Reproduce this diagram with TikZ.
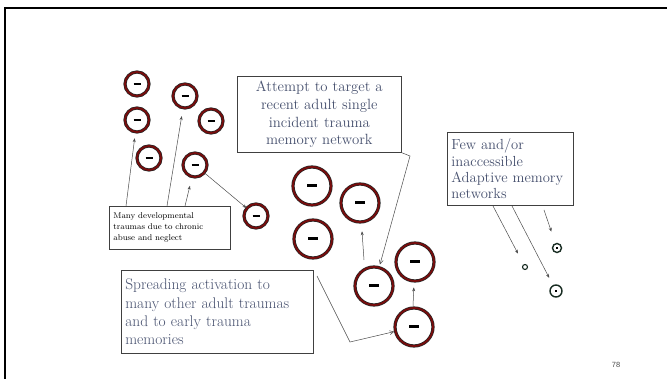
\documentclass[tikz,border=0pt]{standalone}
\usepackage{fontspec}
\newfontfamily\numfont{Liberation Sans}
\usetikzlibrary{arrows.meta}

\definecolor{ringred}{RGB}{120,12,12}
\definecolor{slate}{RGB}{70,80,110}
\definecolor{adaptgreen}{RGB}{25,45,35}

\begin{document}
\begin{tikzpicture}[
            x=1pt, y=-1pt,
            mem/.style={
              circle,
              draw=black!85,
              line width=0.7pt,
              double=ringred,
              double distance=1.8pt,
              fill=white,
              inner sep=0pt,
              minimum size=24pt,
            },
            big/.style={mem, minimum size=38pt},
            adapt/.style={
              circle,
              draw=adaptgreen,
              line width=1.4pt,
              inner sep=0pt,
            },
            note/.style={
              draw=black!75,
              line width=0.7pt,
              fill=white,
              anchor=north west,
              inner xsep=4pt,
              inner ysep=2pt,
              text=slate,
            },
            >={Stealth[length=4pt,width=3pt]},
            callout/.tip={Straight Barb[length=4pt,width=4pt]},
          ]
          \useasboundingbox[fill=white] (0,0) rectangle (667,379);
          \draw[line width=2.5pt] (5,379) -- (5,8) -- (667,8);

          % early trauma memories
          \node[mem] at (137,84) (e1) {\rule{7pt}{2.4pt}} ;
          \node[mem] at (137,120) (e2) {\rule{7pt}{2.4pt}} ;
          \node[mem] at (185,96) (e3) {\rule{7pt}{2.4pt}} ;
          \node[mem] at (211,121) (e4) {\rule{7pt}{2.4pt}} ;
          \node[mem] at (149,158) (e5) {\rule{7pt}{2.4pt}} ;
          \node[mem] at (195,165) (e6) {\rule{7pt}{2.4pt}} ;
          \node[mem] at (256,216) (e7) {\rule{7pt}{2.4pt}} ;

          % adult trauma memories
          \node[big] at (312,186) (r1) {\rule{10pt}{3pt}} ;
          \node[big] at (360,203) (r2) {\rule{10pt}{3pt}} ;
          \node[big] at (313,239) (r3) {\rule{10pt}{3pt}} ;
          \node[big] at (374,286) (r4) {\rule{10pt}{3pt}} ;
          \node[big] at (415,262) (r5) {\rule{10pt}{3pt}} ;
          \node[big] at (414,327) (r6) {\rule{10pt}{3pt}} ;

          % adaptive networks
          \node[adapt, minimum size=9pt] at (557,248) (p1) {\rule{1.2pt}{1.2pt}} ;
          \node[adapt, minimum size=5pt, line width=1.1pt] at (525,267) (p2) {} ;
          \node[adapt, minimum size=12pt] at (556,291) (p3) {\rule{1.4pt}{1.4pt}} ;

          % text boxes
          \node[note, text width=156pt, minimum height=76pt, align=center,
                font=\fontsize{14.8}{17.8}\selectfont] at (237,76) (attempt)
            {Attempt to target a\\ recent adult single\\ incident trauma\\ memory network} ;
          \node[note, text width=118pt, minimum height=73pt, align=left,
                font=\fontsize{14.6}{16.4}\selectfont] at (447,132) (few)
            {Few and/or\\ inaccessible\\ Adaptive memory\\ networks} ;
          \node[note, text width=113pt, minimum height=43pt, align=left, text=black,
                font=\fontsize{8.4}{11}\selectfont] at (109,206) (many)
            {Many developmental\\ traumas due to chronic\\ abuse and neglect} ;
          \node[note, text width=184pt, minimum height=83pt, align=left,
                font=\fontsize{15.4}{18.2}\selectfont] at (121,270) (spread)
            {Spreading activation to\\ many other adult traumas\\ and to early trauma\\ memories} ;

          % free ends of the connectors
          \coordinate (m1) at (126,206) ;
          \coordinate (m2) at (167,206) ;
          \coordinate (m3) at (185,206) ;
          \coordinate (abend) at (410,156) ;
          \coordinate (sstart) at (317,276) ;
          \coordinate (sbend) at (350,342) ;
          \coordinate (u1) at (364,260) ;
          \coordinate (u2) at (413,306) ;
          \coordinate (f1) at (493,206) ;
          \coordinate (f2) at (512,206) ;
          \coordinate (f3) at (544,210) ;

          \begin{scope}[draw=black!70, line width=0.5pt]
          \draw[->, shorten >=6pt] (m1)--(e2) ;
          \draw[->, shorten >=8pt] (m2)--(e3) ;
          \draw[->, shorten >=9pt] (m3)--(e6) ;
          \draw[->] (e6)--(e7) ;
          \draw[->, shorten >=9pt] (u1)--(r2) ;
          \draw[->, shorten >=6pt] (u2)--(r5) ;
          \draw[-callout, shorten >=3pt] (attempt.south east)--(abend)--(r4) ;
          \draw[-callout, shorten >=1pt] (sstart)--(sbend)--(r6) ;
          \draw[->, shorten >=12pt] (f1)--(p2) ;
          \draw[->, shorten >=8pt] (f2)--(p3) ;
          \draw[->, shorten >=12pt] (f3)--(p1) ;
          \end{scope}

          \node[text=black!70, font=\numfont\fontsize{7.5}{9}\selectfont] at (616,365) (num) {78} ;
          \end{tikzpicture}
\end{document}
